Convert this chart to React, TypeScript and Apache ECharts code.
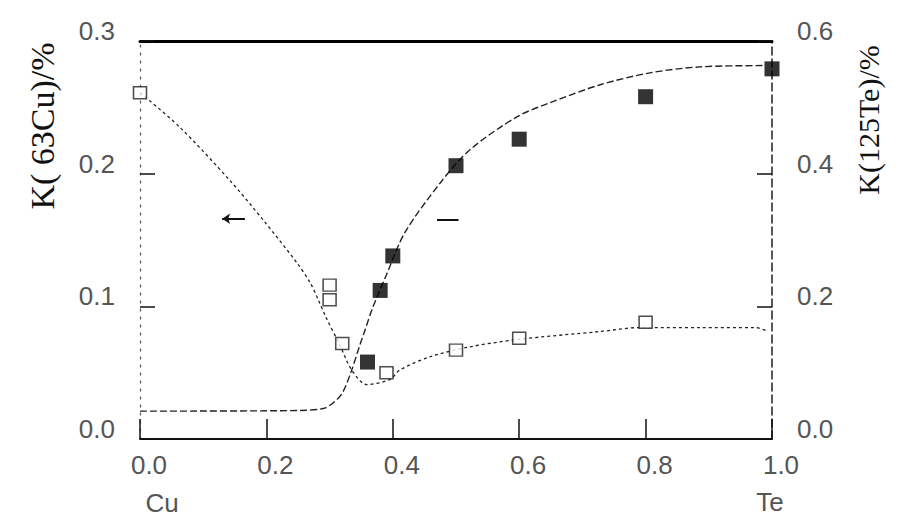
import React, { useEffect, useRef } from "react";
import * as echarts from "echarts";

// Cu Knight shift fit curve (left axis)
const cuFitX = [0, 0.063, 0.142, 0.195, 0.248, 0.269, 0.282, 0.294, 0.316, 0.335, 0.359, 0.396, 0.411, 0.459, 0.517, 0.597, 0.728, 0.791, 0.886, 0.973, 0.994];
const cuFitY = [0.261, 0.235, 0.195, 0.165, 0.133, 0.118, 0.105, 0.092, 0.071, 0.052, 0.041, 0.045, 0.052, 0.062, 0.069, 0.075, 0.081, 0.084, 0.084, 0.084, 0.081];
// Cu Knight shift measured points (open squares, left axis)
const cuPtsX = [0, 0.3, 0.3, 0.32, 0.39, 0.5, 0.6, 0.8];
const cuPtsY = [0.261, 0.116, 0.105, 0.072, 0.05, 0.067, 0.076, 0.088];
// Te Knight shift fit curve (right axis)
const teFitX = [0, 0.253, 0.29, 0.305, 0.32, 0.335, 0.348, 0.356, 0.367, 0.391, 0.419, 0.475, 0.522, 0.597, 0.649, 0.728, 0.807, 0.886, 0.989];
const teFitY = [0.042, 0.043, 0.046, 0.054, 0.069, 0.104, 0.142, 0.164, 0.195, 0.25, 0.311, 0.386, 0.436, 0.486, 0.507, 0.534, 0.552, 0.561, 0.563];
// Te Knight shift measured points (filled squares, right axis)
const tePtsX = [0.36, 0.38, 0.4, 0.5, 0.6, 0.8, 1.0];
const tePtsY = [0.116, 0.224, 0.276, 0.412, 0.452, 0.516, 0.558];

const xTickLabels = ["0.0", "0.2", "0.4", "0.6", "0.8", "1.0"];
const leftTickLabels = ["0.0", "0.1", "0.2", "0.3"];
const rightTickLabels = ["0.0", "0.2", "0.4", "0.6"];

const zip = (xs: number[], ys: number[]) => xs.map((x, i) => [x, ys[i]]);

export default function App() {
  const ref = useRef<HTMLDivElement>(null);
  useEffect(() => {
    if (!ref.current) return;
    const chart = echarts.init(ref.current, null, { renderer: "svg" });
    const labelFont = "Liberation Sans";
    const fmt = (labels: string[], step: number) => (v: number) => {
      const i = Math.round(v / step);
      const t = labels[i];
      return t === undefined ? "" : "{a|" + t + "}";
    };
    const xRich = {
      a: { fontFamily: labelFont, fontSize: 26, color: "#555", padding: [0, 0, 0, 18] },
    };
    const yRich = {
      a: { fontFamily: labelFont, fontSize: 26, color: "#555", padding: [0, 0, 20, 0] },
    };
    chart.setOption({
      animation: false,
      backgroundColor: "#ffffff",
      grid: { left: 140, right: 134, top: 41, bottom: 85 },
      xAxis: [
        {
          type: "value",
          min: 0,
          max: 1,
          interval: 0.2,
          position: "bottom",
          axisLine: { show: true, onZero: false, lineStyle: { color: "#111", width: 2 } },
          axisTick: { show: true, inside: true, length: 20, lineStyle: { color: "#111", width: 1.5 } },
          axisLabel: {
            margin: 13,
            fontFamily: labelFont,
            fontSize: 26,
            color: "#555",
            rich: xRich,
            formatter: fmt(xTickLabels, 0.2),
          },
          splitLine: { show: false },
        },
        {
          type: "value",
          min: 0,
          max: 1,
          position: "top",
          axisLine: { show: true, onZero: false, lineStyle: { color: "#000", width: 3 } },
          axisTick: { show: false },
          axisLabel: { show: false },
          splitLine: { show: false },
        },
      ],
      yAxis: [
        {
          type: "value",
          min: 0,
          max: 0.3,
          interval: 0.1,
          position: "left",
          axisLine: { show: true, onZero: false, lineStyle: { color: "#555", width: 1.2, type: [2, 6] } },
          axisTick: { show: true, inside: true, length: 15, lineStyle: { color: "#111", width: 1.5 } },
          axisLabel: {
            margin: 25,
            fontFamily: labelFont,
            fontSize: 26,
            color: "#555",
            rich: yRich,
            formatter: fmt(leftTickLabels, 0.1),
          },
          splitLine: { show: false },
        },
        {
          type: "value",
          min: 0,
          max: 0.6,
          interval: 0.2,
          position: "right",
          axisLine: { show: true, onZero: false, lineStyle: { color: "#222", width: 1.5, type: [8, 4] } },
          axisTick: { show: true, inside: true, length: 15, lineStyle: { color: "#111", width: 1.5 } },
          axisLabel: {
            margin: 25,
            fontFamily: labelFont,
            fontSize: 26,
            color: "#555",
            rich: yRich,
            formatter: fmt(rightTickLabels, 0.2),
          },
          splitLine: { show: false },
        },
      ],
      series: [
        {
          name: "K(63Cu) fit",
          type: "line",
          xAxisIndex: 0,
          yAxisIndex: 0,
          data: zip(cuFitX, cuFitY),
          smooth: 0.3,
          showSymbol: false,
          symbol: "none",
          lineStyle: { color: "#222", width: 1.3, type: [3, 3] },
          markLine: {
            silent: true,
            symbol: ["none", "arrow"],
            symbolSize: 8,
            label: { show: false },
            lineStyle: { color: "#111", width: 2, type: "solid" },
            data: [[{ coord: [0.166, 0.166] }, { coord: [0.13, 0.166] }]],
          },
          z: 2,
        },
        {
          name: "K(125Te) fit",
          type: "line",
          xAxisIndex: 0,
          yAxisIndex: 1,
          data: zip(teFitX, teFitY),
          smooth: 0.3,
          showSymbol: false,
          symbol: "none",
          lineStyle: { color: "#222", width: 1.4, type: [7, 3] },
          markLine: {
            silent: true,
            symbol: ["none", "none"],
            label: { show: false },
            lineStyle: { color: "#111", width: 2, type: "solid" },
            data: [[{ coord: [0.47, 0.33] }, { coord: [0.504, 0.33] }]],
          },
          z: 2,
        },
        {
          name: "K(63Cu)",
          type: "scatter",
          xAxisIndex: 0,
          yAxisIndex: 0,
          data: zip(cuPtsX, cuPtsY),
          symbol: "rect",
          symbolSize: [13, 12],
          itemStyle: { color: "#ffffff", borderColor: "#222", borderWidth: 1.5 },
          z: 3,
        },
        {
          name: "K(125Te)",
          type: "scatter",
          xAxisIndex: 0,
          yAxisIndex: 1,
          data: zip(tePtsX, tePtsY),
          symbol: "rect",
          symbolSize: 15,
          itemStyle: { color: "#000000" },
          z: 4,
        },
      ],
      graphic: [
        {
          type: "text",
          x: 42,
          y: 126,
          rotation: Math.PI / 2,
          style: {
            text: "K( 63Cu)/%",
            align: "center",
            verticalAlign: "middle",
            fontFamily: "Liberation Serif",
            fontSize: 34,
            fill: "#111",
          },
        },
        {
          type: "text",
          x: 868,
          y: 120,
          rotation: Math.PI / 2,
          style: {
            text: "K(125Te)/%",
            align: "center",
            verticalAlign: "middle",
            fontFamily: "Liberation Serif",
            fontSize: 30,
            fill: "#111",
          },
        },
        {
          type: "text",
          x: 162,
          y: 503,
          style: {
            text: "Cu",
            align: "center",
            verticalAlign: "middle",
            fontFamily: labelFont,
            fontSize: 26,
            fill: "#555",
          },
        },
        {
          type: "text",
          x: 770,
          y: 502,
          style: {
            text: "Te",
            align: "center",
            verticalAlign: "middle",
            fontFamily: labelFont,
            fontSize: 26,
            fill: "#555",
          },
        },
      ],
    });
    return () => chart.dispose();
  }, []);
  return (
    <div
      ref={ref}
      style={{ position: "fixed", left: 0, top: 0, width: 906, height: 524, background: "#fff" }}
    />
  );
}
